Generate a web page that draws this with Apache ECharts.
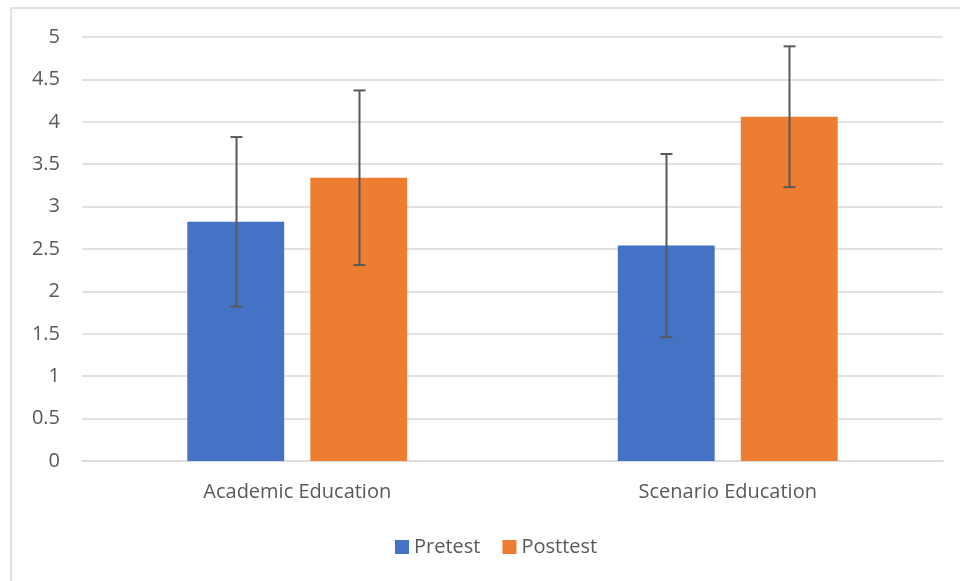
<!DOCTYPE html>
<html>
<head>
<meta charset="utf-8">
<script src="https://cdn.jsdelivr.net/npm/echarts@6/dist/echarts.min.js"></script>
<style>html,body{margin:0;padding:0;background:#fff;}#c{width:960px;height:581px;}</style>
</head>
<body>
<div id="c"></div>
<script>
const categories = ['Academic Education', 'Scenario Education'];
const seriesNames = ['Pretest', 'Posttest'];
const pretest = [2.82, 2.54];
const posttest = [3.34, 4.06];
const pretestErr = [1.0, 1.08];
const posttestErr = [1.03, 0.83];
const yTicks = [0, 0.5, 1, 1.5, 2, 2.5, 3, 3.5, 4, 4.5, 5];

const colors = ['#4472C4', '#ED7D31'];
const FONT = '"Open Sans", "Liberation Sans", sans-serif';
const FS = 20;

const errData = [];
[pretest, posttest].forEach((vals, s) => {
  const errs = s === 0 ? pretestErr : posttestErr;
  vals.forEach((v, i) => errData.push([i, v - errs[i], v + errs[i], s]));
});

const BAR_W = 0.225, GAP = 0.27;
function renderErr(params, api) {
  const cat = api.value(0), lo = api.value(1), hi = api.value(2), s = api.value(3);
  const band = api.size([1, 0])[0];
  const off = band * BAR_W * (1 + GAP) / 2 * (s === 0 ? -1 : 1);
  const pLo = api.coord([cat, lo]);
  const pHi = api.coord([cat, hi]);
  const x = Math.round(pLo[0] + off) + 0.5;
  const cap = 6;
  const style = { stroke: '#595959', lineWidth: 2, fill: null };
  return {
    type: 'group',
    children: [
      { type: 'line', shape: { x1: x, y1: pHi[1], x2: x, y2: pLo[1] }, style },
      { type: 'line', shape: { x1: x - cap, y1: pHi[1], x2: x + cap, y2: pHi[1] }, style },
      { type: 'line', shape: { x1: x - cap, y1: pLo[1], x2: x + cap, y2: pLo[1] }, style }
    ]
  };
}

const chart = echarts.init(document.getElementById('c'));
chart.setOption({
  animation: false,
  textStyle: { fontFamily: FONT },
  graphic: [{
    type: 'rect', shape: { x: 11, y: 8, width: 1000, height: 700 },
    style: { fill: null, stroke: '#d9d9d9', lineWidth: 1.5 }, z: -10, silent: true
  }],
  grid: { left: 82, right: 17, top: 37, bottom: 120 },
  legend: {
    data: seriesNames,
    top: 532,
    left: 390,
    icon: 'rect',
    itemWidth: 14,
    itemHeight: 14,
    itemGap: 22,
    textStyle: { color: '#595959', fontSize: FS, fontFamily: FONT }
  },
  xAxis: {
    type: 'category',
    data: categories,
    axisLine: { show: true, lineStyle: { color: '#d9d9d9', width: 1.5 } },
    axisTick: { show: false },
    axisLabel: { color: '#595959', fontSize: FS, margin: 21, fontFamily: FONT }
  },
  yAxis: {
    type: 'value',
    min: 0, max: 5, interval: 0.5,
    axisLine: { show: false },
    axisTick: { show: false },
    splitLine: { lineStyle: { color: '#d9d9d9', width: 1.5 } },
    axisLabel: { color: '#595959', fontSize: FS, margin: 22, fontFamily: FONT,
      formatter: v => String(v) }
  },
  series: [
    { name: seriesNames[0], type: 'bar', data: pretest, barWidth: '22.5%', barGap: '27%',
      itemStyle: { color: colors[0] } },
    { name: seriesNames[1], type: 'bar', data: posttest, barWidth: '22.5%', barGap: '27%',
      itemStyle: { color: colors[1] } },
    { name: 'err', type: 'custom', renderItem: renderErr, data: errData,
      encode: { x: 0, y: [1, 2] }, z: 10, silent: true }
  ]
});
</script>
</body>
</html>
